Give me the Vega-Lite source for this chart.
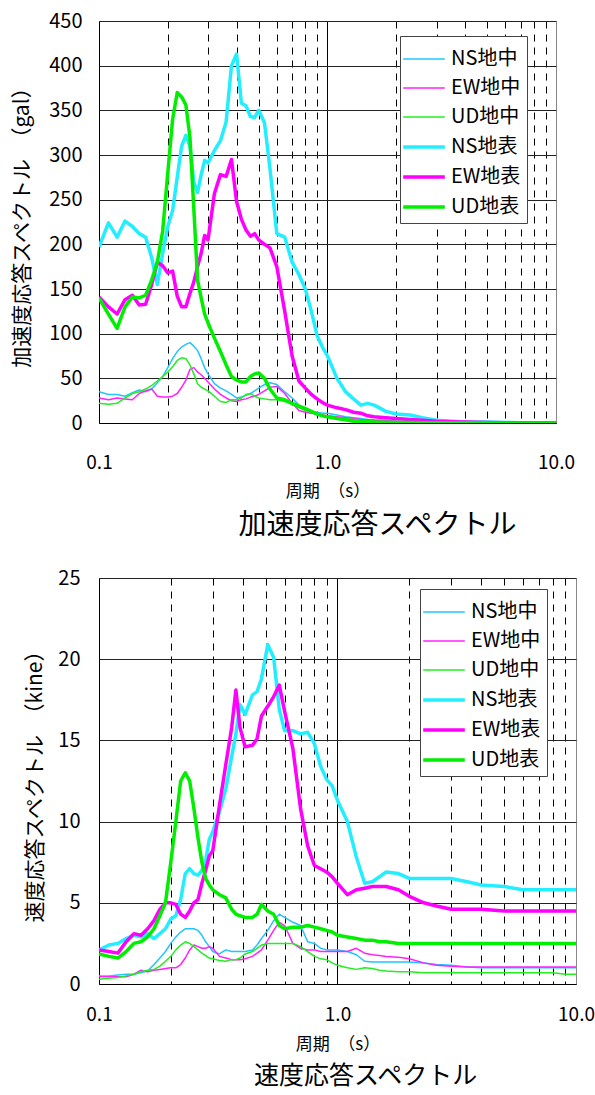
{
  "$schema": "https://vega.github.io/schema/vega-lite/v6.json",
  "background": "white",
  "padding": {"left": 11, "top": 10, "right": 5, "bottom": 0},
  "spacing": 26,
  "config": {
    "font": "Noto Sans CJK JP",
    "view": {"stroke": "#888888", "strokeWidth": 1},
    "axis": {"labelFont": "Noto Sans CJK JP", "titleFont": "Noto Sans CJK JP", "labelColor": "#000", "titleColor": "#000", "titleFontWeight": "normal", "domainColor": "#000", "domainWidth": 1, "ticks": false, "labelOverlap": false, "labelFlush": false},
    "legend": {"labelFont": "Noto Sans CJK JP", "labelColor": "#000"},
    "title": {"font": "Noto Sans CJK JP", "fontWeight": "normal", "color": "#000"}
  },
  "resolve": {
    "scale": {"x": "independent", "y": "independent", "color": "independent", "strokeWidth": "independent"},
    "legend": {"color": "independent", "strokeWidth": "independent"}
  },
  "vconcat": [
    {
      "width": 457,
      "height": 402,
      "title": {"text": "加速度応答スペクトル", "orient": "bottom", "anchor": "middle", "fontSize": 28, "dx": 50, "offset": 13},
      "data": {"values": [
        {"T":0.10,"NS地中":35,"EW地中":28,"UD地中":22,"NS地表":197,"EW地表":141,"UD地表":140},
        {"T":0.11,"NS地中":32,"EW地中":26,"UD地中":21,"NS地表":224,"EW地表":130,"UD地表":122},
        {"T":0.12,"NS地中":32,"EW地中":28,"UD地中":22,"NS地表":208,"EW地表":122,"UD地表":106},
        {"T":0.13,"NS地中":30,"EW地中":27,"UD地中":28,"NS地表":226,"EW地表":138,"UD地表":130},
        {"T":0.14,"NS地中":34,"EW地中":26,"UD地中":33,"NS地表":220,"EW地表":143,"UD地表":141},
        {"T":0.15,"NS地中":37,"EW地中":33,"UD地中":35,"NS地表":212,"EW地表":132,"UD地表":140},
        {"T":0.16,"NS地中":35,"EW地中":36,"UD地中":38,"NS地表":208,"EW地表":133,"UD地表":143},
        {"T":0.17,"NS地中":38,"EW地中":38,"UD地中":42,"NS地表":185,"EW地表":155,"UD地表":160},
        {"T":0.18,"NS地中":45,"EW地中":30,"UD地中":47,"NS地表":155,"EW地表":180,"UD地表":180},
        {"T":0.19,"NS地中":52,"EW地中":29,"UD地中":52,"NS地表":190,"EW地表":176,"UD地表":215},
        {"T":0.20,"NS地中":62,"EW地中":29,"UD地中":57,"NS地表":220,"EW地表":168,"UD地表":280},
        {"T":0.21,"NS地中":72,"EW地中":30,"UD地中":63,"NS地表":238,"EW地表":170,"UD地表":340},
        {"T":0.22,"NS地中":80,"EW地中":33,"UD地中":70,"NS地表":275,"EW地表":142,"UD地表":370},
        {"T":0.23,"NS地中":85,"EW地中":40,"UD地中":73,"NS地表":310,"EW地表":130,"UD地表":365},
        {"T":0.24,"NS地中":88,"EW地中":48,"UD地中":72,"NS地表":322,"EW地表":130,"UD地表":356},
        {"T":0.25,"NS地中":90,"EW地中":60,"UD地中":65,"NS地表":310,"EW地表":145,"UD地表":320},
        {"T":0.26,"NS地中":86,"EW地中":62,"UD地中":55,"NS地表":270,"EW地表":158,"UD地表":240},
        {"T":0.27,"NS地中":81,"EW地中":57,"UD地中":44,"NS地表":258,"EW地表":175,"UD地表":160},
        {"T":0.28,"NS地中":72,"EW地中":54,"UD地中":40,"NS地表":278,"EW地表":190,"UD地表":140},
        {"T":0.29,"NS地中":62,"EW地中":50,"UD地中":38,"NS地表":294,"EW地表":210,"UD地表":122},
        {"T":0.30,"NS地中":55,"EW地中":46,"UD地中":36,"NS地表":291,"EW地表":205,"UD地表":112},
        {"T":0.32,"NS地中":44,"EW地中":38,"UD地中":30,"NS地表":305,"EW地表":257,"UD地表":95},
        {"T":0.34,"NS地中":39,"EW地中":32,"UD地中":24,"NS地表":316,"EW地表":278,"UD地表":80},
        {"T":0.36,"NS地中":36,"EW地中":28,"UD地中":23,"NS地表":337,"EW地表":276,"UD地表":65},
        {"T":0.38,"NS地中":32,"EW地中":25,"UD地中":26,"NS地表":400,"EW地表":295,"UD地表":52},
        {"T":0.40,"NS地中":28,"EW地中":24,"UD地中":26,"NS地表":413,"EW地表":248,"UD地表":48},
        {"T":0.42,"NS地中":29,"EW地中":26,"UD地中":28,"NS地表":358,"EW地表":228,"UD地表":46},
        {"T":0.44,"NS地中":31,"EW地中":27,"UD地中":32,"NS地表":355,"EW地表":216,"UD地表":46},
        {"T":0.46,"NS地中":33,"EW地中":29,"UD地中":33,"NS地表":343,"EW地表":209,"UD地表":52},
        {"T":0.48,"NS地中":36,"EW地中":30,"UD地中":30,"NS地表":342,"EW地表":212,"UD地表":55},
        {"T":0.50,"NS地中":39,"EW地中":32,"UD地中":28,"NS地表":350,"EW地表":205,"UD地表":56},
        {"T":0.53,"NS地中":43,"EW地中":36,"UD地中":27,"NS地表":336,"EW地表":200,"UD地表":50},
        {"T":0.56,"NS地中":45,"EW地中":40,"UD地中":26,"NS地表":285,"EW地表":196,"UD地表":38},
        {"T":0.60,"NS地中":43,"EW地中":41,"UD地中":26,"NS地表":212,"EW地表":175,"UD地表":28},
        {"T":0.65,"NS地中":35,"EW地中":33,"UD地中":24,"NS地表":208,"EW地表":125,"UD地表":26},
        {"T":0.70,"NS地中":28,"EW地中":22,"UD地中":21,"NS地表":180,"EW地表":75,"UD地表":22},
        {"T":0.75,"NS地中":20,"EW地中":14,"UD地中":17,"NS地表":166,"EW地表":47,"UD地表":19},
        {"T":0.80,"NS地中":15,"EW地中":12,"UD地中":14,"NS地表":150,"EW地表":39,"UD地表":16},
        {"T":0.85,"NS地中":13,"EW地中":11,"UD地中":12,"NS地表":125,"EW地表":32,"UD地表":13},
        {"T":0.90,"NS地中":12,"EW地中":10,"UD地中":10,"NS地表":98,"EW地表":27,"UD地表":10},
        {"T":0.95,"NS地中":11,"EW地中":9,"UD地中":8,"NS地表":85,"EW地表":23,"UD地表":8},
        {"T":1.0,"NS地中":11,"EW地中":8,"UD地中":7,"NS地表":75,"EW地表":20,"UD地表":7},
        {"T":1.1,"NS地中":9,"EW地中":7,"UD地中":6,"NS地表":50,"EW地表":17,"UD地表":5},
        {"T":1.2,"NS地中":7,"EW地中":6,"UD地中":5,"NS地表":35,"EW地表":15,"UD地表":3.5},
        {"T":1.3,"NS地中":6,"EW地中":5,"UD地中":4,"NS地表":27,"EW地表":12,"UD地表":2},
        {"T":1.4,"NS地中":5,"EW地中":4,"UD地中":3,"NS地表":20,"EW地表":11,"UD地表":1.5},
        {"T":1.5,"NS地中":4,"EW地中":3.5,"UD地中":2.5,"NS地表":22,"EW地表":8,"UD地表":1},
        {"T":1.6,"NS地中":3.5,"EW地中":3,"UD地中":2,"NS地表":20,"EW地表":7,"UD地表":1},
        {"T":1.8,"NS地中":3,"EW地中":2.5,"UD地中":1.5,"NS地表":13,"EW地表":6,"UD地表":0.8},
        {"T":2.0,"NS地中":2,"EW地中":2,"UD地中":1.2,"NS地表":10,"EW地表":5,"UD地表":0.6},
        {"T":2.3,"NS地中":1.5,"EW地中":1.5,"UD地中":1,"NS地表":9,"EW地表":4,"UD地表":0.5},
        {"T":2.6,"NS地中":1.2,"EW地中":1.2,"UD地中":0.8,"NS地表":6,"EW地表":3,"UD地表":0.4},
        {"T":3.0,"NS地中":1,"EW地中":1,"UD地中":0.6,"NS地表":3,"EW地表":2,"UD地表":0.3},
        {"T":3.5,"NS地中":0.8,"EW地中":0.8,"UD地中":0.5,"NS地表":2,"EW地表":1.5,"UD地表":0.3},
        {"T":4.0,"NS地中":0.6,"EW地中":0.6,"UD地中":0.4,"NS地表":1,"EW地表":1,"UD地表":0.2},
        {"T":5.0,"NS地中":0.5,"EW地中":0.5,"UD地中":0.3,"NS地表":1,"EW地表":0.5,"UD地表":0.2},
        {"T":6.0,"NS地中":0.4,"EW地中":0.4,"UD地中":0.2,"NS地表":0.5,"EW地表":0.3,"UD地表":0.1},
        {"T":7.0,"NS地中":0.3,"EW地中":0.3,"UD地中":0.2,"NS地表":0.3,"EW地表":0.3,"UD地表":0.1},
        {"T":8.0,"NS地中":0.3,"EW地中":0.2,"UD地中":0.1,"NS地表":0.3,"EW地表":0.2,"UD地表":0.1},
        {"T":9.0,"NS地中":0.2,"EW地中":0.2,"UD地中":0.1,"NS地表":0.2,"EW地表":0.2,"UD地表":0.1},
        {"T":10.0,"NS地中":0.2,"EW地中":0.2,"UD地中":0.1,"NS地表":0.2,"EW地表":0.2,"UD地表":0.1}
      ]},
      "transform": [{"fold": ["NS地中","EW地中","UD地中","NS地表","EW地表","UD地表"], "as": ["series","v"]}],
      "mark": {"type": "line", "clip": true, "strokeJoin": "round"},
      "encoding": {
        "x": {"field": "T", "type": "quantitative", "scale": {"type": "log", "domain": [0.1, 10]},
          "axis": {"values": [0.1,0.2,0.3,0.4,0.5,0.6,0.7,0.8,0.9,1,2,3,4,5,6,7,8,9,10],
            "labelExpr": "datum.value == 0.1 || datum.value == 1 || datum.value == 10 ? format(datum.value, '.1f') : ''",
            "title": "周期　（s）", "titleFontSize": 17, "titlePadding": 11,
            "labelFontSize": 19, "labelPadding": 30,
            "grid": true, "gridColor": "#000", "gridWidth": 1,
            "gridDash": {"condition": {"test": "datum.value == 1", "value": []}, "value": [7, 6]},
            "gridOpacity": {"condition": {"test": "datum.value == 0.1 || datum.value == 10", "value": 0}, "value": 1}}},
        "y": {"field": "v", "type": "quantitative", "scale": {"domain": [0, 450]},
          "axis": {"values": [0,50,100,150,200,250,300,350,400,450], "title": "加速度応答スペクトル　（gal）",
            "titleFontSize": 21, "titlePadding": 16, "labelFontSize": 20, "labelPadding": 17,
            "grid": true, "gridColor": "#222", "gridWidth": 1}},
        "color": {"field": "series", "type": "ordinal",
          "scale": {"type": "ordinal", "domain": ["NS地中","EW地中","UD地中","NS地表","EW地表","UD地表"], "range": ["#22C4FF","#FF22FF","#22EE22","#22EEFF","#FF00FF","#00EE00"]},
          "legend": {"orient": "none", "legendX": 301, "legendY": 15, "title": null, "symbolType": "M-1.3,0L1.3,0", "symbolSize": 1024, "labelFontSize": 20, "labelOffset": 9, "rowPadding": 2, "padding": 6, "strokeColor": "#444", "fillColor": "#fff"}},
        "strokeWidth": {"field": "series", "type": "ordinal",
          "scale": {"type": "ordinal", "domain": ["NS地中","EW地中","UD地中","NS地表","EW地表","UD地表"], "range": [1.5,1.5,1.5,3.5,3.5,3.5]},
          "legend": {"orient": "none", "legendX": 301, "legendY": 15, "title": null, "symbolType": "M-1.3,0L1.3,0", "symbolSize": 1024, "labelFontSize": 20, "labelOffset": 9, "rowPadding": 2, "padding": 6, "strokeColor": "#444", "fillColor": "#fff"}}
      }
    },
    {
      "width": 477,
      "height": 406,
      "title": {"text": "速度応答スペクトル", "orient": "bottom", "anchor": "middle", "fontSize": 25, "dx": 28, "offset": 12},
      "data": {"values": [
        {"T":0.10,"NS地中":0.5,"EW地中":0.45,"UD地中":0.3,"NS地表":2.1,"EW地表":2.1,"UD地表":1.85},
        {"T":0.11,"NS地中":0.5,"EW地中":0.45,"UD地中":0.35,"NS地表":2.4,"EW地表":2.0,"UD地表":1.7},
        {"T":0.12,"NS地中":0.55,"EW地中":0.45,"UD地中":0.4,"NS地表":2.5,"EW地表":1.9,"UD地表":1.6},
        {"T":0.13,"NS地中":0.6,"EW地中":0.45,"UD地中":0.5,"NS地表":2.8,"EW地表":2.6,"UD地表":2.0},
        {"T":0.14,"NS地中":0.6,"EW地中":0.6,"UD地中":0.6,"NS地表":3.0,"EW地表":3.1,"UD地表":2.5},
        {"T":0.15,"NS地中":0.7,"EW地中":0.85,"UD地中":0.75,"NS地表":2.9,"EW地表":3.0,"UD地表":2.6},
        {"T":0.16,"NS地中":0.8,"EW地中":0.75,"UD地中":0.85,"NS地表":3.1,"EW地表":3.4,"UD地表":2.9},
        {"T":0.17,"NS地中":1.2,"EW地中":0.85,"UD地中":0.9,"NS地表":2.8,"EW地表":3.9,"UD地表":3.4},
        {"T":0.18,"NS地中":1.6,"EW地中":0.9,"UD地中":1.1,"NS地表":3.1,"EW地表":4.6,"UD地表":4.2},
        {"T":0.19,"NS地中":2.0,"EW地中":0.95,"UD地中":1.4,"NS地表":3.4,"EW地表":5.0,"UD地表":5.0},
        {"T":0.20,"NS地中":2.5,"EW地中":1.0,"UD地中":1.7,"NS地表":4.0,"EW地表":5.0,"UD地表":7.5},
        {"T":0.21,"NS地中":2.9,"EW地中":1.0,"UD地中":2.1,"NS地表":4.2,"EW地表":4.9,"UD地表":10.0},
        {"T":0.22,"NS地中":3.2,"EW地中":1.2,"UD地中":2.4,"NS地表":5.2,"EW地表":4.3,"UD地表":12.5},
        {"T":0.23,"NS地中":3.4,"EW地中":1.6,"UD地中":2.6,"NS地表":6.8,"EW地表":4.1,"UD地表":13.0},
        {"T":0.24,"NS地中":3.4,"EW地中":2.1,"UD地中":2.5,"NS地表":7.1,"EW地表":4.5,"UD地表":12.5},
        {"T":0.25,"NS地中":3.4,"EW地中":2.4,"UD地中":2.3,"NS地表":6.8,"EW地表":5.0,"UD地表":10.8},
        {"T":0.26,"NS地中":3.3,"EW地中":2.3,"UD地中":2.1,"NS地表":6.7,"EW地表":5.2,"UD地表":9.0},
        {"T":0.27,"NS地中":3.0,"EW地中":2.2,"UD地中":1.9,"NS地表":7.0,"EW地表":6.2,"UD地表":7.5},
        {"T":0.28,"NS地中":2.6,"EW地中":2.2,"UD地中":1.75,"NS地表":7.6,"EW地表":7.0,"UD地表":6.5},
        {"T":0.29,"NS地中":2.3,"EW地中":2.3,"UD地中":1.6,"NS地表":8.9,"EW地表":7.9,"UD地表":6.1},
        {"T":0.30,"NS地中":2.0,"EW地中":2.2,"UD地中":1.55,"NS地表":9.4,"EW地表":8.2,"UD地表":5.8},
        {"T":0.32,"NS地中":1.85,"EW地中":1.7,"UD地中":1.45,"NS地表":10.6,"EW地表":11.0,"UD地表":5.5},
        {"T":0.34,"NS地中":2.1,"EW地中":1.6,"UD地中":1.4,"NS地表":12.0,"EW地表":13.5,"UD地表":5.3},
        {"T":0.36,"NS地中":2.0,"EW地中":1.5,"UD地中":1.5,"NS地表":14.0,"EW地表":15.8,"UD地表":4.6},
        {"T":0.375,"NS地中":2.0,"EW地中":1.5,"UD地中":1.5,"NS地表":15.4,"EW地表":18.1,"UD地表":4.3},
        {"T":0.39,"NS地中":2.0,"EW地中":1.5,"UD地中":1.6,"NS地表":17.2,"EW地表":15.8,"UD地表":4.2},
        {"T":0.41,"NS地中":2.0,"EW地中":1.55,"UD地中":1.85,"NS地表":16.6,"EW地表":14.6,"UD地表":4.1},
        {"T":0.44,"NS地中":2.1,"EW地中":1.7,"UD地中":2.0,"NS地表":17.8,"EW地表":14.7,"UD地表":4.1},
        {"T":0.46,"NS地中":2.4,"EW地中":1.9,"UD地中":2.2,"NS地表":18.0,"EW地表":15.1,"UD地表":4.3},
        {"T":0.48,"NS地中":2.8,"EW地中":2.1,"UD地中":2.4,"NS地表":18.8,"EW地表":16.5,"UD地表":4.9},
        {"T":0.51,"NS地中":3.3,"EW地中":2.7,"UD地中":2.5,"NS地表":20.9,"EW地表":17.1,"UD地表":4.5},
        {"T":0.54,"NS地中":3.9,"EW地中":3.3,"UD地中":2.5,"NS地表":20.1,"EW地表":17.7,"UD地表":4.3},
        {"T":0.57,"NS地中":4.3,"EW地中":3.8,"UD地中":2.5,"NS地表":16.9,"EW地表":18.4,"UD地表":3.6},
        {"T":0.60,"NS地中":4.1,"EW地中":3.6,"UD地中":2.5,"NS地表":15.6,"EW地表":16.8,"UD地表":3.4},
        {"T":0.65,"NS地中":3.8,"EW地中":2.5,"UD地中":2.5,"NS地表":15.6,"EW地表":14.5,"UD地表":3.5},
        {"T":0.70,"NS地中":3.6,"EW地中":2.2,"UD地中":2.3,"NS地表":15.4,"EW地表":10.8,"UD地表":3.5},
        {"T":0.75,"NS地中":2.6,"EW地中":2.1,"UD地中":2.0,"NS地表":15.5,"EW地表":8.5,"UD地表":3.6},
        {"T":0.80,"NS地中":2.5,"EW地中":2.1,"UD地中":1.7,"NS地表":14.8,"EW地表":7.3,"UD地表":3.5},
        {"T":0.85,"NS地中":2.2,"EW地中":2.0,"UD地中":1.55,"NS地表":13.4,"EW地表":7.1,"UD地表":3.4},
        {"T":0.90,"NS地中":2.1,"EW地中":2.0,"UD地中":1.5,"NS地表":12.6,"EW地表":6.9,"UD地表":3.3},
        {"T":0.95,"NS地中":2.1,"EW地中":2.0,"UD地中":1.3,"NS地表":12.2,"EW地表":6.6,"UD地表":3.2},
        {"T":1.0,"NS地中":2.1,"EW地中":2.0,"UD地中":1.15,"NS地表":11.3,"EW地表":6.2,"UD地表":3.0},
        {"T":1.1,"NS地中":2.0,"EW地中":2.0,"UD地中":1.0,"NS地表":10.0,"EW地表":5.5,"UD地表":2.9},
        {"T":1.2,"NS地中":1.8,"EW地中":2.2,"UD地中":0.9,"NS地表":7.8,"EW地表":5.8,"UD地表":2.8},
        {"T":1.3,"NS地中":1.4,"EW地中":1.9,"UD地中":1.0,"NS地表":6.2,"EW地表":5.9,"UD地表":2.7},
        {"T":1.4,"NS地中":1.35,"EW地中":1.8,"UD地中":0.95,"NS地表":6.3,"EW地表":6.0,"UD地表":2.7},
        {"T":1.5,"NS地中":1.35,"EW地中":1.75,"UD地中":0.85,"NS地表":6.6,"EW地表":6.0,"UD地表":2.6},
        {"T":1.6,"NS地中":1.35,"EW地中":1.7,"UD地中":0.8,"NS地表":6.9,"EW地表":6.0,"UD地表":2.6},
        {"T":1.8,"NS地中":1.35,"EW地中":1.65,"UD地中":0.75,"NS地表":6.8,"EW地表":5.8,"UD地表":2.5},
        {"T":2.0,"NS地中":1.35,"EW地中":1.55,"UD地中":0.75,"NS地表":6.5,"EW地表":5.4,"UD地表":2.5},
        {"T":2.3,"NS地中":1.3,"EW地中":1.3,"UD地中":0.7,"NS地表":6.5,"EW地表":5.0,"UD地表":2.5},
        {"T":2.6,"NS地中":1.2,"EW地中":1.15,"UD地中":0.7,"NS地表":6.5,"EW地表":4.8,"UD地表":2.5},
        {"T":3.0,"NS地中":1.15,"EW地中":1.1,"UD地中":0.7,"NS地表":6.5,"EW地表":4.6,"UD地表":2.5},
        {"T":3.5,"NS地中":1.05,"EW地中":1.05,"UD地中":0.7,"NS地表":6.3,"EW地表":4.6,"UD地表":2.5},
        {"T":4.0,"NS地中":1.0,"EW地中":1.05,"UD地中":0.7,"NS地表":6.1,"EW地表":4.6,"UD地表":2.5},
        {"T":5.0,"NS地中":1.0,"EW地中":1.05,"UD地中":0.7,"NS地表":6.0,"EW地表":4.5,"UD地表":2.5},
        {"T":6.0,"NS地中":1.0,"EW地中":1.05,"UD地中":0.7,"NS地表":5.8,"EW地表":4.5,"UD地表":2.5},
        {"T":7.0,"NS地中":1.0,"EW地中":1.05,"UD地中":0.7,"NS地表":5.8,"EW地表":4.5,"UD地表":2.5},
        {"T":8.0,"NS地中":1.0,"EW地中":1.05,"UD地中":0.7,"NS地表":5.8,"EW地表":4.5,"UD地表":2.5},
        {"T":9.0,"NS地中":1.0,"EW地中":1.05,"UD地中":0.6,"NS地表":5.8,"EW地表":4.5,"UD地表":2.5},
        {"T":10.0,"NS地中":1.0,"EW地中":1.05,"UD地中":0.6,"NS地表":5.8,"EW地表":4.5,"UD地表":2.5}
      ]},
      "transform": [{"fold": ["NS地中","EW地中","UD地中","NS地表","EW地表","UD地表"], "as": ["series","v"]}],
      "mark": {"type": "line", "clip": true, "strokeJoin": "round"},
      "encoding": {
        "x": {"field": "T", "type": "quantitative", "scale": {"type": "log", "domain": [0.1, 10]},
          "axis": {"values": [0.1,0.2,0.3,0.4,0.5,0.6,0.7,0.8,0.9,1,2,3,4,5,6,7,8,9,10],
            "labelExpr": "datum.value == 0.1 || datum.value == 1 || datum.value == 10 ? format(datum.value, '.1f') : ''",
            "title": "周期　（s）", "titleFontSize": 17, "titlePadding": 12,
            "labelFontSize": 19, "labelPadding": 21,
            "grid": true, "gridColor": "#000", "gridWidth": 1,
            "gridDash": {"condition": {"test": "datum.value == 1", "value": []}, "value": [7, 6]},
            "gridOpacity": {"condition": {"test": "datum.value == 0.1 || datum.value == 10", "value": 0}, "value": 1}}},
        "y": {"field": "v", "type": "quantitative", "scale": {"domain": [0, 25]},
          "axis": {"values": [0,5,10,15,20,25], "title": "速度応答スペクトル　（kine）",
            "titleFontSize": 21, "titlePadding": 12, "labelFontSize": 20, "labelPadding": 19,
            "grid": true, "gridColor": "#222", "gridWidth": 1}},
        "color": {"field": "series", "type": "ordinal",
          "scale": {"type": "ordinal", "domain": ["NS地中","EW地中","UD地中","NS地表","EW地表","UD地表"], "range": ["#22C4FF","#FF22FF","#22EE22","#22EEFF","#FF00FF","#00EE00"]},
          "legend": {"orient": "none", "legendX": 321, "legendY": 11, "title": null, "symbolType": "M-1.3,0L1.3,0", "symbolSize": 1024, "labelFontSize": 20, "labelOffset": 9, "rowPadding": 2, "padding": 6, "strokeColor": "#444", "fillColor": "#fff"}},
        "strokeWidth": {"field": "series", "type": "ordinal",
          "scale": {"type": "ordinal", "domain": ["NS地中","EW地中","UD地中","NS地表","EW地表","UD地表"], "range": [1.5,1.5,1.5,3.5,3.5,3.5]},
          "legend": {"orient": "none", "legendX": 321, "legendY": 11, "title": null, "symbolType": "M-1.3,0L1.3,0", "symbolSize": 1024, "labelFontSize": 20, "labelOffset": 9, "rowPadding": 2, "padding": 6, "strokeColor": "#444", "fillColor": "#fff"}}
      }
    }
  ]
}
